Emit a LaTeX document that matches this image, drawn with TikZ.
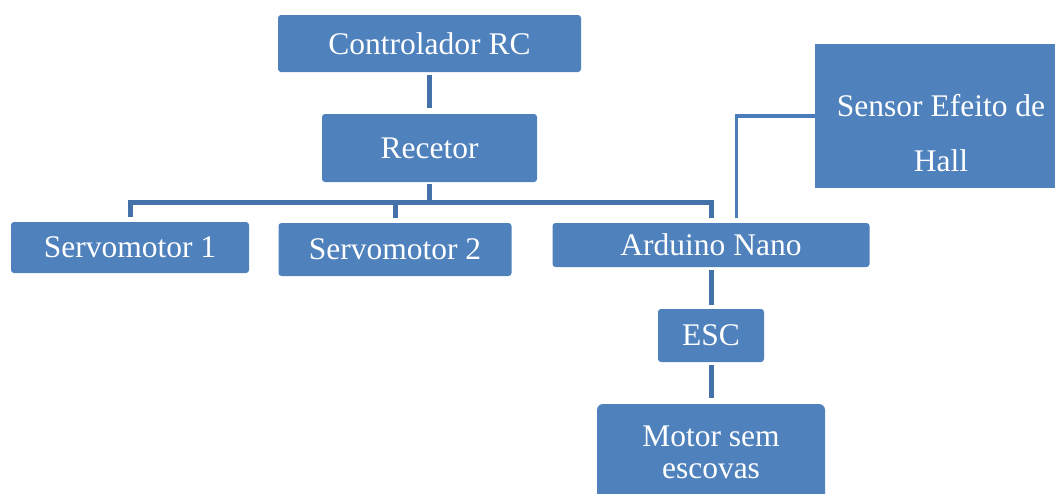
\documentclass[tikz,border=0pt]{standalone}
\usepackage{fontspec}
\setmainfont{Liberation Serif}
\definecolor{boxblue}{HTML}{4F81BD}
\definecolor{linkblue}{HTML}{4371A8}
\definecolor{thinblue}{HTML}{4A7DBA}
\begin{document}
\begin{tikzpicture}[x=1pt,y=-1pt,
  box/.style={fill=boxblue, draw=none, rounded corners=3pt, text=white,
    font=\fontsize{31.5}{36}\selectfont, inner sep=0pt},
  txt/.style={text=white, font=\fontsize{31.5}{36}\selectfont, inner sep=0pt, anchor=base},
  conn/.style={draw=linkblue, line width=5pt},
  thinconn/.style={draw=thinblue, line width=3.5pt}]
\useasboundingbox (0,0) rectangle (1055,493);
% boxes
\node[box, minimum width=303pt, minimum height=57pt] (ctrl) at (429.5,43.5) {Controlador RC};
\node[box, minimum width=215pt, minimum height=68pt] (rec) at (429.5,148) {Recetor};
\node[box, minimum width=238pt, minimum height=51pt] (s1) at (130,247.5) {Servomotor 1};
\node[box, minimum width=233pt, minimum height=53pt] (s2) at (395,249.5) {Servomotor 2};
\node[box, minimum width=317pt, minimum height=44pt] (ard) at (711,245) {Arduino Nano};
\node[box, minimum width=106pt, minimum height=53pt] (esc) at (711,335.5) {ESC};
\node[box, rounded corners=6pt, minimum width=228pt, minimum height=99pt] (motor) at (711,453.5) {};
\node[txt] (motorA) at (711,446) {Motor sem};
\node[txt] (motorB) at (711,478) {escovas};
\node[box, rounded corners=0pt, minimum width=252pt, minimum height=144pt] (sensor) at (941,116) {};
\node[txt] (sensorA) at (941,116) {Sensor Efeito de};
\node[txt] (sensorB) at (941,171) {Hall};
% connectors
\coordinate (bus) at (429.5,202);
\draw[conn, shorten <=3pt, shorten >=6pt] (ctrl.south) -- (rec.north);
\draw[conn, shorten <=2pt] (rec.south) -- (bus);
\draw[conn, shorten <=5pt] (s1.north) |- (bus);
\draw[conn, shorten <=5pt] (s2.north) |- (bus);
\draw[conn, shorten <=5pt] (ard.north) |- (bus);
\draw[thinconn, shorten >=5pt] (sensor.west) -| ([xshift=25.5pt]ard.north);
\draw[conn, shorten <=3pt, shorten >=4pt] (ard.south) -- (esc.north);
\draw[conn, shorten <=3pt, shorten >=6pt] (esc.south) -- (motor.north);
\end{tikzpicture}
\end{document}
